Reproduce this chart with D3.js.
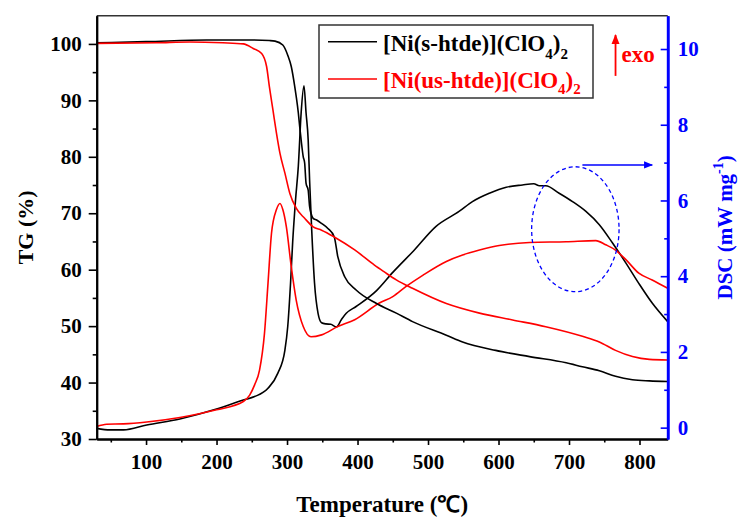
<!DOCTYPE html>
<html>
<head>
<meta charset="utf-8">
<script src="https://cdn.jsdelivr.net/npm/d3@7"></script>
<style>
  body { margin: 0; background: #fff; }
  svg { display: block; }
  text { font-family: "Liberation Serif", "Times New Roman", serif; font-weight: bold; }
</style>
</head>
<body>
<svg id="chart" width="739" height="517"></svg>
<script>
// TG curves (temperature in C, mass %)
const tgSTemp = [30, 100, 186, 250, 275, 283, 294, 301, 306, 311, 313, 316, 318, 320, 323, 325, 327, 330, 332, 334, 337, 342, 349, 358, 367, 372, 382, 398, 427, 455, 478, 526, 549, 596, 644, 696, 719, 743, 766, 790, 814, 840];
const tgSVal  = [100.2, 100.4, 100.7, 100.7, 100.6, 100.5, 99.8, 98.0, 96.0, 92.4, 90.7, 87.8, 85.3, 83.0, 80.0, 78.9, 75.3, 74.1, 71.2, 70.0, 69.1, 68.8, 68.2, 67.3, 65.8, 62.3, 58.7, 56.4, 54.0, 52.3, 50.8, 48.4, 47.2, 45.7, 44.6, 43.5, 42.8, 42.1, 41.1, 40.5, 40.3, 40.2];

const tgUsTemp = [30, 115, 162, 209, 238, 252, 264, 271, 275, 280, 285, 290, 297, 304, 313, 325, 337, 349, 367, 396, 424, 438, 455, 478, 526, 573, 620, 667, 719, 743, 766, 790, 814, 840];
const tgUsVal  = [100.1, 100.2, 100.35, 100.2, 100.0, 99.2, 98.3, 96.0, 92.4, 88.3, 84.2, 80.6, 77.1, 73.5, 70.9, 69.1, 67.6, 67.0, 65.8, 63.5, 60.8, 59.6, 58.2, 56.7, 54.0, 52.3, 51.1, 49.9, 48.2, 47.2, 45.7, 44.6, 44.1, 44.0];

// DSC curves (mW/mg)
const dscSTemp = [30, 49, 68, 101, 148, 200, 238, 254, 273, 287, 297, 301, 305, 308, 312, 316, 320, 324, 327, 330, 332, 335, 339, 344, 349, 355, 362, 370, 377, 384, 398, 427, 450, 480, 511, 544, 563, 587, 611, 634, 650, 658, 667, 686, 705, 724, 743, 762, 781, 799, 818, 840];
const dscSVal  = [-0.02, -0.06, -0.06, 0.07, 0.23, 0.49, 0.73, 0.82, 1.04, 1.44, 2.05, 2.67, 3.82, 4.9, 6.0, 6.9, 8.31, 9.03, 8.31, 7.6, 6.54, 5.22, 3.82, 3.02, 2.77, 2.74, 2.73, 2.66, 2.85, 3.02, 3.2, 3.62, 4.1, 4.68, 5.31, 5.71, 5.97, 6.19, 6.35, 6.41, 6.44, 6.39, 6.39, 6.19, 5.97, 5.71, 5.36, 4.87, 4.34, 3.81, 3.29, 2.8];

const dscUsTemp = [30, 44, 68, 101, 148, 200, 238, 247, 254, 261, 268, 273, 278, 285, 290, 294, 299, 306, 313, 323, 334, 349, 372, 396, 431, 450, 469, 493, 526, 549, 573, 601, 644, 696, 738, 752, 766, 781, 799, 818, 840];
const dscUsVal  = [0.03, 0.09, 0.10, 0.15, 0.27, 0.47, 0.69, 0.86, 1.13, 1.52, 2.49, 3.81, 5.14, 5.76, 5.92, 5.76, 5.31, 4.25, 3.37, 2.67, 2.40, 2.45, 2.67, 2.85, 3.29, 3.46, 3.73, 4.03, 4.39, 4.56, 4.69, 4.81, 4.89, 4.91, 4.94, 4.83, 4.69, 4.43, 4.08, 3.90, 3.68];

// ticks
const xTicks = [100, 200, 300, 400, 500, 600, 700, 800];
const xMinor = [50, 150, 250, 350, 450, 550, 650, 750];
const tgTicks = [30, 40, 50, 60, 70, 80, 90, 100];
const tgMinor = [35, 45, 55, 65, 75, 85, 95];
const dscTicks = [0, 2, 4, 6, 8, 10];
const dscMinor = [1, 3, 5, 7, 9];

const legendNames = ["s-htde", "us-htde"];

const svg = d3.select("#chart");
const blue = "#0000ff", red = "#ff0000";

let x = d3.scaleLinear().domain([30, 840]).range([96.7, 667.7]);
let yTG = d3.scaleLinear().domain([30, 105]).range([439, 15.7]);
let yDSC = d3.scaleLinear().domain([-0.3, 10.88]).range([439, 15.7]);

svg.append("rect").attr("width", 739).attr("height", 517).attr("fill", "#fff");

function drawCurve(temps, vals, y, color) {
    let line = d3.line()
        .x((d, i) => x(temps[i]))
        .y(d => y(d))
        .curve(d3.curveMonotoneX);
    svg.append("path")
        .attr("d", line(vals))
        .attr("fill", "none")
        .attr("stroke", color)
        .attr("stroke-width", 1.6)
        .attr("stroke-linejoin", "round");
}

drawCurve(dscSTemp, dscSVal, yDSC, "#000");
drawCurve(dscUsTemp, dscUsVal, yDSC, red);
drawCurve(tgSTemp, tgSVal, yTG, "#000");
drawCurve(tgUsTemp, tgUsVal, yTG, red);

// top border
svg.append("line")
    .attr("x1", x(30)).attr("x2", x(840))
    .attr("y1", yTG(105)).attr("y2", yTG(105))
    .attr("stroke", "#333").attr("stroke-width", 1.5);

// axes
function styleAxis(g, color, size) {
    g.select(".domain").attr("stroke", color).attr("stroke-width", 2);
    g.selectAll(".tick line").attr("stroke", color).attr("stroke-width", 1.6);
    g.selectAll(".tick text").attr("fill", color).style("font-size", size + "px")
        .style("font-family", '"Liberation Serif", "Times New Roman", serif').style("font-weight", "bold");
}

let gx = svg.append("g").attr("transform", `translate(0,${yTG(30)})`)
    .call(d3.axisBottom(x).tickValues(xTicks).tickSize(6).tickSizeOuter(0).tickPadding(9));
styleAxis(gx, "#000", 21);
let gxm = svg.append("g").attr("transform", `translate(0,${yTG(30)})`)
    .call(d3.axisBottom(x).tickValues(xMinor).tickSize(3.5).tickSizeOuter(0).tickFormat(""));
styleAxis(gxm, "#000", 21);

let gy = svg.append("g").attr("transform", `translate(${x(30)},0)`)
    .call(d3.axisLeft(yTG).tickValues(tgTicks).tickSize(8).tickSizeOuter(0).tickPadding(7));
styleAxis(gy, "#000", 21);
let gym = svg.append("g").attr("transform", `translate(${x(30)},0)`)
    .call(d3.axisLeft(yTG).tickValues(tgMinor).tickSize(4).tickSizeOuter(0).tickFormat(""));
styleAxis(gym, "#000", 21);

let gr = svg.append("g").attr("transform", `translate(${x(840)},0)`)
    .call(d3.axisRight(yDSC).tickValues(dscTicks).tickSize(-7).tickSizeOuter(0).tickPadding(10));
styleAxis(gr, blue, 21);
gr.select(".domain").attr("stroke-width", 2.6);
let grm = svg.append("g").attr("transform", `translate(${x(840)},0)`)
    .call(d3.axisRight(yDSC).tickValues(dscMinor).tickSize(-3.5).tickSizeOuter(0).tickFormat(""));
styleAxis(grm, blue, 21);
grm.select(".domain").attr("stroke-width", 2.6);

// axis titles
svg.append("text")
    .attr("x", (x(30) + x(840)) / 2).attr("y", 512)
    .attr("text-anchor", "middle").style("font-size", "23px")
    .text("Temperature (℃)");

svg.append("text")
    .attr("transform", `translate(33,${(yTG(30) + yTG(105)) / 2}) rotate(-90)`)
    .attr("text-anchor", "middle").style("font-size", "22px")
    .text("TG (%)");

let dscTitle = svg.append("text")
    .attr("transform", `translate(732,${(yTG(30) + yTG(105)) / 2}) rotate(-90)`)
    .attr("text-anchor", "middle").style("font-size", "21px").attr("fill", blue);
dscTitle.append("tspan").text("DSC (mW mg");
dscTitle.append("tspan").attr("dy", -9).style("font-size", "14px").text("-1");
dscTitle.append("tspan").attr("dy", 9).text(")");

// legend
const legX = 319, legY = 25;
svg.append("rect")
    .attr("x", legX).attr("y", legY).attr("width", 274).attr("height", 73)
    .attr("fill", "#fff").attr("stroke", "#333").attr("stroke-width", 1.5);

[["#000", 41.7, 50.5, 8], [red, 79, 88, 6]].forEach((d, i) => {
    let [color, ly, ty, sub] = d;
    svg.append("line")
        .attr("x1", 328).attr("x2", 377).attr("y1", ly).attr("y2", ly)
        .attr("stroke", color).attr("stroke-width", 1.6);
    let t = svg.append("text").attr("x", 383).attr("y", ty)
        .attr("fill", color).style("font-size", "23px");
    t.append("tspan").text(`[Ni(${legendNames[i]})](ClO`);
    t.append("tspan").attr("dy", sub).style("font-size", "15px").text("4");
    t.append("tspan").attr("dy", -sub).text(")");
    t.append("tspan").attr("dy", sub).style("font-size", "15px").text("2");
});

// annotations: exo arrow, blue arrow and dashed ellipse
const exoT = 766, exoFrom = 9.29, exoTo = 10.37;
const arrowFromT = 719, arrowToT = 818, arrowDsc = 6.94;
const ellT = 709, ellDsc = 5.24, ellRT = 62, ellRDsc = 1.65;

let defs = svg.append("defs");
[["headRed", red], ["headBlue", blue]].forEach(([id, c]) => {
    defs.append("marker").attr("id", id)
        .attr("viewBox", "0 0 10 10").attr("refX", 9).attr("refY", 5)
        .attr("markerWidth", 10).attr("markerHeight", 10)
        .attr("markerUnits", "userSpaceOnUse").attr("orient", "auto")
        .append("path").attr("d", "M0,1 L10,5 L0,9 Z").attr("fill", c);
});
defs.select("#headBlue").attr("markerWidth", 13).attr("markerHeight", 9);

svg.append("line")
    .attr("x1", x(exoT)).attr("x2", x(exoT))
    .attr("y1", yDSC(exoFrom)).attr("y2", yDSC(exoTo))
    .attr("stroke", red).attr("stroke-width", 1.8)
    .attr("marker-end", "url(#headRed)");
svg.append("text").attr("x", x(exoT) + 6).attr("y", 62)
    .attr("fill", red).style("font-size", "23px").text("exo");

svg.append("line")
    .attr("x1", x(arrowFromT)).attr("x2", x(arrowToT))
    .attr("y1", yDSC(arrowDsc)).attr("y2", yDSC(arrowDsc))
    .attr("stroke", blue).attr("stroke-width", 1.5)
    .attr("marker-end", "url(#headBlue)");

svg.append("ellipse")
    .attr("cx", x(ellT)).attr("cy", yDSC(ellDsc))
    .attr("rx", x(ellT + ellRT) - x(ellT))
    .attr("ry", yDSC(ellDsc) - yDSC(ellDsc + ellRDsc))
    .attr("fill", "none").attr("stroke", blue)
    .attr("stroke-width", 1.3).attr("stroke-dasharray", "4,3");
</script>
</body>
</html>
